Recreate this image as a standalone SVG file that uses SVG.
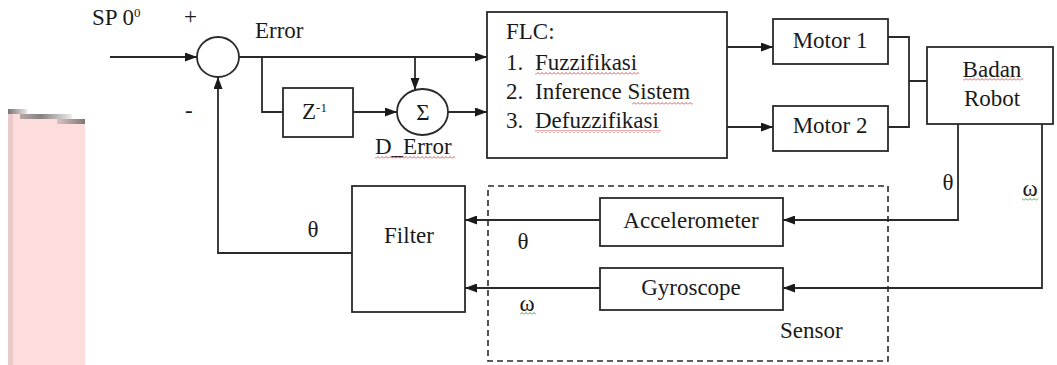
<svg xmlns="http://www.w3.org/2000/svg" width="1057" height="365" viewBox="0 0 1057 365">
<style>
.t{font-family:"Liberation Serif","DejaVu Serif",serif;font-size:23px;fill:#1a1a1a}
.c{text-anchor:middle}
.b{fill:#fff;stroke:#2a2a2a;stroke-width:1.8}
.w{fill:none;stroke:#2a2a2a;stroke-width:1.8}
.a{marker-end:url(#ah)}
.sq{fill:url(#red)}
.sg{fill:url(#grn)}
</style>
<defs>
<marker id="ah" markerUnits="userSpaceOnUse" markerWidth="13" markerHeight="9" refX="12" refY="4.5" orient="auto">
<path d="M0,0 L12,4.5 L0,9 z" fill="#1a1a1a"/>
</marker>
<pattern id="red" width="4" height="3" patternUnits="userSpaceOnUse">
<path d="M0,2.5 L2,0.5 L4,2.5" fill="none" stroke="#d84848" stroke-width="0.9"/>
</pattern>
<pattern id="grn" width="4" height="3" patternUnits="userSpaceOnUse">
<path d="M0,2.5 L2,0.5 L4,2.5" fill="none" stroke="#3a9a3a" stroke-width="0.9"/>
</pattern>
<linearGradient id="g1" x1="0" x2="1" y1="0" y2="0">
<stop offset="0" stop-color="#7c7474"/><stop offset="1" stop-color="#ece6e6"/>
</linearGradient>
<linearGradient id="g2" x1="0" x2="1" y1="0" y2="0">
<stop offset="0" stop-color="#b8a8a8"/><stop offset="0.4" stop-color="#888080"/><stop offset="1" stop-color="#f0ecec"/>
</linearGradient>
<linearGradient id="g3" x1="0" x2="1" y1="0" y2="0">
<stop offset="0" stop-color="#d8c4c4"/><stop offset="1" stop-color="#7e7676"/>
</linearGradient>
</defs>
<rect width="1057" height="365" fill="#fff"/>
<!-- pink margin artefact -->
<rect x="8" y="109" width="19" height="5" fill="url(#g1)"/>
<rect x="8" y="114" width="64" height="5" fill="#fddcdc"/>
<rect x="20" y="114" width="52" height="5" fill="url(#g2)"/>
<rect x="8" y="119" width="77" height="246" fill="#fddcdc"/>
<rect x="57" y="119" width="28" height="5" fill="url(#g3)"/>
<rect x="8" y="114" width="5" height="251" fill="#ebcaca"/>

<g id="connectors">
<path class="w a" d="M110,57 H197"/>
<path class="w a" d="M239,57 H487"/>
<path class="w" d="M262,57 V112 H283"/>
<path class="w a" d="M353,112 H397"/>
<path class="w a" d="M415,57 V90"/>
<path class="w a" d="M448,112 H487"/>
<path class="w a" d="M727,47 H773"/>
<path class="w a" d="M727,127 H773"/>
<path class="w" d="M888,37 H909 V127 H888 M909,81 H927"/>
<path class="w a" d="M958,124 V220 H783"/>
<path class="w a" d="M1042,124 V288 H783"/>
<path class="w a" d="M600,220 H465"/>
<path class="w a" d="M600,288 H465"/>
<path class="w a" d="M352,253 H218 V77"/>
</g>

<g id="labels">
<text class="t" x="92" y="25">SP 0<tspan font-size="13" dy="-8">0</tspan></text>
<text class="t" x="184" y="24" font-size="18">+</text>
<text class="t" x="185" y="118" font-size="18">-</text>
<text class="t" x="255" y="38">Error</text>
<text class="t" x="375" y="154">D_Error</text>
<rect class="sq" x="375" y="156" width="80" height="3"/>
<text class="t c" x="313" y="237">θ</text>
<text class="t c" x="523" y="249">θ</text>
<text class="t c" x="527" y="311">ω</text>
<rect class="sg" x="520" y="312" width="16" height="3"/>
<text class="t c" x="948" y="190">θ</text>
<text class="t c" x="1030" y="196">ω</text>
<rect class="sg" x="1022" y="198" width="16" height="3"/>
</g>

<g id="sum">
<ellipse class="b" cx="218" cy="57" rx="21" ry="20"/>
</g>

<g id="delay">
<rect class="b" x="283" y="88" width="70" height="49"/>
<text class="t" x="302" y="119">Z<tspan font-size="13" dy="-7">-1</tspan></text>
</g>

<g id="sigma">
<ellipse class="b" cx="422.5" cy="112" rx="25.5" ry="23"/>
<text class="t c" x="423" y="120">Σ</text>
</g>

<g id="flc">
<rect class="b" x="487" y="12" width="240" height="146"/>
<text class="t" x="506" y="39">FLC:</text>
<text class="t" x="506" y="70">1.</text>
<text class="t" x="535" y="70">Fuzzifikasi</text>
<rect class="sq" x="535" y="72" width="104" height="3"/>
<text class="t" x="506" y="99">2.</text>
<text class="t" x="535" y="99">Inference Sistem</text>
<rect class="sq" x="632" y="102" width="61" height="3"/>
<text class="t" x="506" y="128">3.</text>
<text class="t" x="535" y="128">Defuzzifikasi</text>
<rect class="sq" x="535" y="130" width="126" height="3"/>
</g>

<g id="motor1">
<rect class="b" x="773" y="19" width="115" height="45"/>
<text class="t c" x="830" y="48">Motor 1</text>
</g>

<g id="motor2">
<rect class="b" x="773" y="106" width="115" height="45"/>
<text class="t c" x="830" y="133">Motor 2</text>
</g>

<g id="badan">
<rect class="b" x="927" y="47" width="126" height="77"/>
<text class="t c" x="992" y="77">Badan</text>
<rect class="sq" x="963" y="78" width="60" height="3"/>
<text class="t c" x="992" y="106">Robot</text>
</g>

<g id="sensor">
<rect x="488" y="186" width="400" height="175" fill="none" stroke="#2a2a2a" stroke-width="1.6" stroke-dasharray="6,4"/>
<text class="t" x="780" y="338">Sensor</text>
</g>

<g id="accelerometer">
<rect class="b" x="600" y="198" width="183" height="48"/>
<text class="t c" x="691" y="228">Accelerometer</text>
</g>

<g id="gyroscope">
<rect class="b" x="600" y="268" width="183" height="42"/>
<text class="t c" x="691" y="295">Gyroscope</text>
</g>

<g id="filter">
<rect class="b" x="352" y="186" width="113" height="126"/>
<text class="t c" x="409" y="243">Filter</text>
</g>
</svg>
